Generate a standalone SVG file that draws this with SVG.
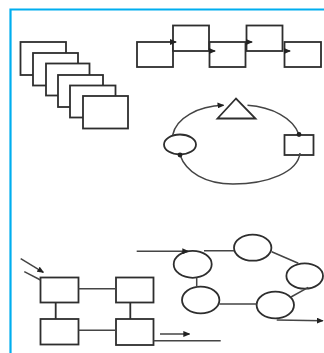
<svg xmlns="http://www.w3.org/2000/svg" width="324" height="353" viewBox="0 0 324 353">
<style>
.s{fill:#fff;stroke:#2e2e2e;stroke-width:1.8}
.c{fill:none;stroke:#444;stroke-width:1.5}
.d{fill:#222}
.g{filter:url(#b)}
</style>
<defs>
<filter id="b" x="-5%" y="-5%" width="110%" height="110%"><feGaussianBlur stdDeviation="0.35"/></filter>
<marker id="a" markerWidth="7" markerHeight="6" refX="6" refY="3" orient="auto" markerUnits="userSpaceOnUse"><path d="M0 0L7 3L0 6Z" fill="#222"/></marker>
</defs>
<rect width="324" height="353" fill="#fff"/>
<g id="frame"><path d="M10.5 353V9.5H324" fill="none" stroke="#00aeef" stroke-width="2.2"/></g>
<g class="g">
<g id="stack">
<rect id="s1" class="s" x="20.5" y="42" width="45.5" height="33"/>
<rect id="s2" class="s" x="33" y="53" width="45" height="32.5"/>
<rect id="s3" class="s" x="46" y="63.5" width="43.5" height="32"/>
<rect id="s4" class="s" x="58" y="75" width="45" height="32"/>
<rect id="s5" class="s" x="70" y="85.5" width="45.5" height="32"/>
<rect id="s6" class="s" x="83" y="96" width="45" height="32.5"/>
</g>
<g id="chain">
<rect id="c1" class="s" x="137" y="42" width="36" height="25"/>
<rect id="c2" class="s" x="173" y="25.5" width="36" height="25.5"/>
<rect id="c3" class="s" x="209.5" y="42" width="36" height="25"/>
<rect id="c4" class="s" x="246.5" y="25.5" width="36" height="25.5"/>
<rect id="c5" class="s" x="284.5" y="42" width="36.5" height="25"/>
</g>
<g id="cycle-triangle"><path class="s" d="M236 98.5L217.5 118.5H255.5Z"/></g>
<g id="cycle-rect"><rect class="s" x="284.5" y="135" width="29" height="20"/></g>
<g id="cycle-ellipse"><ellipse class="s" cx="180" cy="144.5" rx="16" ry="10"/></g>
<g id="grid">
<rect id="g1" class="s" x="40.5" y="277.5" width="38" height="25"/>
<rect id="g2" class="s" x="116" y="277.5" width="37.5" height="25"/>
<rect id="g3" class="s" x="40.5" y="319" width="38" height="25.5"/>
<rect id="g4" class="s" x="116" y="319" width="37.5" height="26"/>
</g>
<g id="ring">
<ellipse id="e1" class="s" cx="192.7" cy="264.3" rx="19" ry="13.5"/>
<ellipse id="e2" class="s" cx="252.7" cy="247.7" rx="18.7" ry="13"/>
<ellipse id="e3" class="s" cx="304.7" cy="276" rx="18.3" ry="12.7"/>
<ellipse id="e4" class="s" cx="275.3" cy="305" rx="18.7" ry="13.3"/>
<ellipse id="e5" class="s" cx="200.7" cy="300" rx="18.7" ry="13.3"/>
</g>
<g id="connectors">
<path class="c" d="M171 42h5" marker-end="url(#a)"/>
<path class="c" d="M209 51h6" marker-end="url(#a)"/>
<path class="c" d="M246 42h6" marker-end="url(#a)"/>
<path class="c" d="M284 51h6" marker-end="url(#a)"/>
<path class="c" d="M172.7 135C176 118 198 106 223.5 105.3" marker-end="url(#a)"/>
<path class="c" d="M247.5 105.3C272 107 293 118 299 134.5"/>
<circle class="d" cx="299" cy="134.5" r="2.4"/>
<path class="c" d="M180 155C186 172 205 184 233 184C268 184 298 172 300 153"/>
<circle class="d" cx="180" cy="155" r="2.4"/>
<path class="c" d="M78.5 288.7H116M78.5 330.3H116"/>
<path class="s" d="M55.7 302.5V319M130.3 302.5V319"/>
<path class="c" d="M20.7 258.7L43.3 272.3" marker-end="url(#a)"/>
<path class="c" d="M24.3 271.7L40.5 280"/>
<path class="c" d="M153.5 340.7H220.7"/>
<path class="c" d="M160 334H189.3" marker-end="url(#a)"/>
<path class="c" d="M136.7 251.3H188.3" marker-end="url(#a)"/>
<path class="c" d="M204 250.7H234M271.7 251.7L298.3 263.3M308.3 287.3L291 297M219.3 304H256.7M196.7 277.5V287"/>
<path class="c" d="M276.7 320L322.7 320.7" marker-end="url(#a)"/>
</g>
</g>
</svg>
